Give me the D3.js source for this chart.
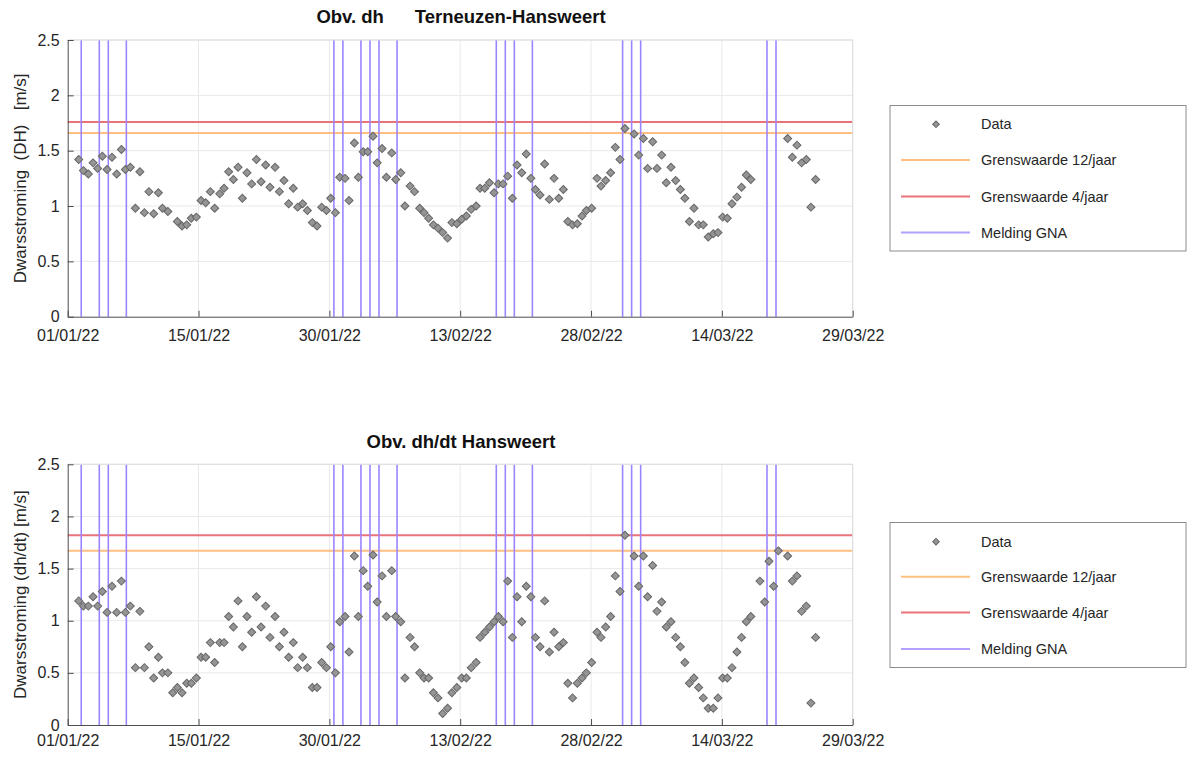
<!DOCTYPE html>
<html>
<head>
<meta charset="utf-8">
<script src="https://cdn.jsdelivr.net/npm/d3@7"></script>
<style>
  html, body { margin: 0; padding: 0; background: #fff; }
  svg { display: block; font-family: "Liberation Sans", Arial, Helvetica, sans-serif; }
</style>
</head>
<body>
<svg id="chart" width="1187" height="757"></svg>
<script>
// Time axis: 1 Jan 2022 – 29 Mar 2022, ticks every 14.5 days
const startDate = new Date(2022, 0, 1);
const endDate = new Date(2022, 2, 29);
const xTickDays = [0, 14.5, 29, 43.5, 58, 72.5, 87];
const yTicks = [0, 0.5, 1, 1.5, 2, 2.5];

// Observation times (days after 1 Jan 2022 00:00), roughly one per tide
const tideDays = [
  1.22, 1.74, 2.29, 2.81, 3.32, 3.84, 4.36, 4.91, 5.43, 5.95, 6.39, 6.94, 7.50, 8.00, 8.50, 9.00, 9.53, 10.05, 10.50, 11.10,
  11.64,
  12.15, 12.67, 13.19, 13.70, 14.26, 14.78, 15.29, 15.81, 16.29, 16.85, 17.33, 17.84, 18.36, 18.88, 19.36, 19.87, 20.39,
  20.91, 21.43, 21.94, 22.42, 22.98, 23.46, 23.97, 24.49, 25.00, 25.49, 26.04, 26.56, 27.11, 27.63, 28.15, 28.67, 29.15,
  29.67, 30.15, 30.74, 31.18, 31.77, 32.21, 32.75, 33.25, 33.84, 34.30, 34.84, 35.32, 35.91, 36.35, 36.91, 37.37, 37.94,
  38.44, 39.01, 39.49, 40.00, 40.53, 41.04, 41.56, 42.10, 42.58, 43.13, 43.67, 44.18, 44.72, 45.27, 45.70, 46.22, 46.74,
  47.25, 47.73, 48.25, 48.76, 49.28, 49.80, 50.32, 50.82, 51.33, 51.83, 52.35, 52.86, 53.38, 53.90, 54.42, 54.93, 55.43,
  55.95, 56.48, 57.00, 57.48,
  58.07, 58.66, 59.10, 59.62, 60.17, 60.69, 61.21, 61.76, 62.78, 63.28, 63.80, 64.27, 64.83, 65.31, 65.83, 66.34, 66.86,
  67.38, 67.90, 68.40, 68.90, 69.41, 69.93, 70.44, 70.99, 71.55, 72.07, 72.59, 73.10, 73.62, 74.17, 74.68, 75.21, 75.71,
  76.72, 77.24, 77.72, 78.24, 78.76,
  79.79, 80.31, 80.82, 81.34, 81.86, 82.37, 82.89
];

// Cross current from water level difference Terneuzen-Hansweert [m/s]
const dhValues = [
  1.42, 1.32, 1.29, 1.39, 1.34, 1.45, 1.33, 1.44, 1.29, 1.51, 1.33, 1.35, 0.98, 1.31, 0.94, 1.13, 0.93, 1.12, 0.98, 0.95,
  null,
  0.86, 0.82, 0.83, 0.89, 0.90, 1.05, 1.03, 1.13, 0.98, 1.11, 1.16, 1.31, 1.24, 1.35, 1.07, 1.30, 1.20,
  1.42, 1.22, 1.37, 1.17, 1.35, 1.13, 1.23, 1.02, 1.16, 0.99, 1.02, 0.96, 0.85, 0.82, 0.99, 0.96, 1.07,
  0.94, 1.26, 1.25, 1.05, 1.57, 1.26, 1.49, 1.49, 1.63, 1.39, 1.52, 1.26, 1.48, 1.24, 1.30, 1.00, 1.18,
  1.13, 0.98, 0.94, 0.89, 0.83, 0.80, 0.76, 0.71, 0.85, 0.84, 0.88, 0.91, 0.97, 1.00, 1.16, 1.16, 1.21,
  1.12, 1.20, 1.20, 1.27, 1.07, 1.37, 1.30, 1.47, 1.25, 1.15, 1.10, 1.38, 1.06, 1.25, 1.07, 1.15, 0.86,
  0.83, 0.84, 0.91, 0.96,
  0.98, 1.25, 1.18, 1.23, 1.30, 1.53, 1.42, 1.70, 1.65, 1.46, 1.61, 1.34, 1.58, 1.34, 1.46, 1.21, 1.35,
  1.23, 1.15, 1.07, 0.86, 0.98, 0.83, 0.83, 0.72, 0.75, 0.76, 0.90, 0.89, 1.02, 1.08, 1.17, 1.28, 1.24,
  null, null, null, null, null,
  1.61, 1.44, 1.55, 1.39, 1.42, 0.99, 1.24
];

// Cross current from water level rate of change at Hansweert [m/s]
const dhdtValues = [
  1.19, 1.14, 1.14, 1.23, 1.14, 1.28, 1.08, 1.33, 1.08, 1.38, 1.08, 1.14, 0.55, 1.09, 0.55, 0.75, 0.45, 0.65, 0.50, 0.50,
  0.31,
  0.36, 0.31, 0.40, 0.40, 0.45, 0.65, 0.65, 0.79, 0.60, 0.79, 0.79, 1.04, 0.94, 1.19, 0.75, 1.04, 0.89,
  1.23, 0.94, 1.14, 0.84, 1.04, 0.75, 0.89, 0.65, 0.79, 0.55, 0.65, 0.55, 0.36, 0.36, 0.60, 0.55, 0.75,
  0.50, 0.99, 1.04, 0.70, 1.62, 1.04, 1.48, 1.33, 1.63, 1.18, 1.43, 1.04, 1.48, 1.04, 0.99, 0.45, 0.84,
  0.75, 0.50, 0.45, 0.45, 0.31, 0.26, 0.11, 0.16, 0.31, 0.36, 0.45, 0.45, 0.55, 0.60, 0.84, 0.89, 0.94,
  0.99, 1.04, 0.99, 1.38, 0.84, 1.23, 0.99, 1.33, 1.23, 0.84, 0.75, 1.19, 0.70, 0.89, 0.75, 0.79, 0.40,
  0.26, 0.40, 0.45, 0.50,
  0.60, 0.89, 0.84, 0.94, 1.04, 1.43, 1.28, 1.82, 1.62, 1.33, 1.62, 1.23, 1.53, 1.09, 1.18, 0.94, 0.99,
  0.84, 0.75, 0.60, 0.40, 0.45, 0.36, 0.26, 0.16, 0.16, 0.26, 0.45, 0.45, 0.55, 0.70, 0.84, 0.99, 1.04,
  1.38, 1.18, 1.57, 1.33, 1.67,
  1.62, 1.38, 1.43, 1.09, 1.14, 0.21, 0.84
];

// GNA reports (days after 1 Jan 2022)
const gnaDays = [1.5, 3.5, 4.5, 6.5, 29.5, 30.5, 32.5, 33.5, 34.5, 36.5,
                 47.5, 48.5, 49.5, 51.5, 61.5, 62.5, 63.5, 77.5, 78.5];

// Limit values [m/s]
const dhLimit12 = 1.66, dhLimit4 = 1.76;
const dhdtLimit12 = 1.67, dhdtLimit4 = 1.82;

const legendLabels = ["Data", "Grenswaarde 12/jaar", "Grenswaarde 4/jaar", "Melding GNA"];

const colors = {
  limit12: "#ffbf80",
  limit4: "#e8747a",
  gna: "#9c84ff",
  markerFill: "#959595",
  markerStroke: "#666666",
  grid: "#e9e9e9",
  axis: "#4d4d4d",
  text: "#262626"
};

const dayToDate = d => new Date(startDate.getTime() + d * 864e5);

const panels = [
  {
    title: "Obv. dh      Terneuzen-Hansweert", titleY: 23,
    yLabel: "Dwarsstroming  (DH)   [m/s]",
    values: dhValues, lim12: dhLimit12, lim4: dhLimit4,
    top: 40, bottom: 316.7, tickPad: 13,
    legend: { x: 890, y: 105.5, w: 296, h: 145.5, rows: [124.3, 160, 196.5, 232.5] }
  },
  {
    title: "Obv. dh/dt Hanswеert", titleY: 448,
    yLabel: "Dwarsstroming (dh/dt) [m/s]",
    values: dhdtValues, lim12: dhdtLimit12, lim4: dhdtLimit4,
    top: 464.3, bottom: 725, tickPad: 10,
    legend: { x: 890, y: 522.5, w: 296, h: 145, rows: [541.7, 576.7, 612.5, 649] }
  }
];

const svg = d3.select("#chart");
const plotLeft = 67.7, plotRight = 852.7;
const x = d3.scaleTime().domain([startDate, endDate]).range([plotLeft, plotRight]);
const diamond = d3.symbol().type(d3.symbolSquare).size(32);
const fmt = d3.timeFormat("%d/%m/%y");

panels.forEach(p => {
  const y = d3.scaleLinear().domain([0, 2.5]).range([p.bottom, p.top]);
  const g = svg.append("g");

  // grid
  g.append("g").selectAll("line").data(xTickDays.slice(1)).join("line")
    .attr("x1", d => x(dayToDate(d))).attr("x2", d => x(dayToDate(d)))
    .attr("y1", p.top).attr("y2", p.bottom)
    .attr("stroke", colors.grid).attr("stroke-width", 1);
  g.append("g").selectAll("line").data(yTicks.slice(1)).join("line")
    .attr("x1", plotLeft).attr("x2", plotRight)
    .attr("y1", d => y(d)).attr("y2", d => y(d))
    .attr("stroke", colors.grid).attr("stroke-width", 1);

  // limit lines
  g.append("line")
    .attr("x1", plotLeft).attr("x2", plotRight)
    .attr("y1", y(p.lim12)).attr("y2", y(p.lim12))
    .attr("stroke", colors.limit12).attr("stroke-width", 2);
  g.append("line")
    .attr("x1", plotLeft).attr("x2", plotRight)
    .attr("y1", y(p.lim4)).attr("y2", y(p.lim4))
    .attr("stroke", colors.limit4).attr("stroke-width", 2);

  // GNA reports
  g.append("g").selectAll("line").data(gnaDays).join("line")
    .attr("x1", d => x(dayToDate(d))).attr("x2", d => x(dayToDate(d)))
    .attr("y1", p.top).attr("y2", p.bottom)
    .attr("stroke", colors.gna).attr("stroke-width", 1.6);

  // data markers
  const pts = tideDays.map((d, i) => ({ t: dayToDate(d), v: p.values[i] })).filter(d => d.v != null);
  g.append("g").selectAll("path").data(pts).join("path")
    .attr("d", diamond)
    .attr("transform", d => `translate(${x(d.t)},${y(d.v)}) rotate(45)`)
    .attr("fill", colors.markerFill)
    .attr("stroke", colors.markerStroke)
    .attr("stroke-width", 1);

  // light frame on top and right
  g.append("path")
    .attr("d", `M${plotLeft},${p.top}H${plotRight}V${p.bottom}`)
    .attr("fill", "none").attr("stroke", "#dcdcdc").attr("stroke-width", 1);

  // axes
  const xAxis = d3.axisBottom(x)
    .tickValues(xTickDays.map(dayToDate))
    .tickFormat(fmt)
    .tickSizeInner(-6).tickSizeOuter(0).tickPadding(p.tickPad);
  const gx = g.append("g").attr("transform", `translate(0,${p.bottom})`).call(xAxis);
  const yAxis = d3.axisLeft(y).tickValues(yTicks).tickFormat(d3.format("~g"))
    .tickSizeInner(-6).tickSizeOuter(0).tickPadding(8);
  const gy = g.append("g").attr("transform", `translate(${plotLeft},0)`).call(yAxis);
  [gx, gy].forEach(a => {
    a.select(".domain").attr("stroke", colors.axis);
    a.selectAll(".tick line").attr("stroke", colors.axis);
    a.selectAll("text").attr("fill", colors.text).attr("font-size", 16)
      .attr("font-family", "'Liberation Sans', Arial, sans-serif");
  });

  // title
  svg.append("text")
    .attr("x", 461).attr("y", p.titleY)
    .attr("text-anchor", "middle")
    .attr("font-size", 18.5).attr("font-weight", "bold")
    .attr("fill", "#111")
    .style("white-space", "pre")
    .text(p.title);

  // y label
  svg.append("text")
    .attr("transform", `translate(26,${(p.top + p.bottom) / 2}) rotate(-90)`)
    .attr("text-anchor", "middle")
    .attr("font-size", 17)
    .attr("fill", colors.text)
    .style("white-space", "pre")
    .text(p.yLabel);

  // legend
  const L = p.legend;
  const lg = svg.append("g");
  lg.append("rect")
    .attr("x", L.x).attr("y", L.y).attr("width", L.w).attr("height", L.h)
    .attr("fill", "#fff").attr("stroke", "#8c8c8c").attr("stroke-width", 1);
  lg.append("path")
    .attr("d", d3.symbol().type(d3.symbolSquare).size(22))
    .attr("transform", `translate(936,${L.rows[0]}) rotate(45)`)
    .attr("fill", colors.markerFill).attr("stroke", colors.markerStroke).attr("stroke-width", 1);
  const legendStrokes = [colors.limit12, colors.limit4, "#b3a0ff"];
  legendStrokes.forEach((c, i) => {
    lg.append("line")
      .attr("x1", 901).attr("x2", 970)
      .attr("y1", L.rows[i + 1]).attr("y2", L.rows[i + 1])
      .attr("stroke", c).attr("stroke-width", 2);
  });
  lg.selectAll("text").data(legendLabels).join("text")
    .attr("x", 981).attr("y", (d, i) => L.rows[i])
    .attr("dy", "0.35em")
    .attr("font-size", 14.5)
    .attr("fill", colors.text)
    .text(d => d);
});
</script>
</body>
</html>
